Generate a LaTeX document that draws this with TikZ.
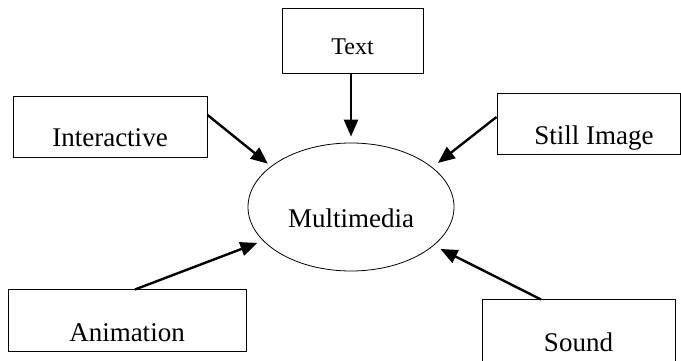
\documentclass[tikz,border=0pt]{standalone}
\usepackage{fontspec}
\setmainfont{Liberation Serif}
\usetikzlibrary{shapes.geometric,arrows.meta}
\begin{document}
\begin{tikzpicture}[x=1pt, y=1pt]
	% Define styles
	\tikzstyle{itembox} = [rectangle, draw, line width=1pt, inner sep=0pt, text depth=0pt, font=\fontsize{27}{30}\selectfont]
	\tikzstyle{centre} = [ellipse, draw, line width=0.8pt, minimum width=206pt, minimum height=128pt, inner sep=0pt, text height=42pt, text depth=0pt, font=\fontsize{27}{30}\selectfont]
	\tikzstyle{feed} = [-{Triangle[length=17pt, width=14pt]}, line width=2.4pt]

	\useasboundingbox (0,0) rectangle (681,361);

	% Nodes
	\node[centre] (media) at (351,154) {Multimedia};
	\node[itembox, minimum width=141pt, minimum height=65pt, text height=27pt, font=\fontsize{24}{28}\selectfont] (text) at (352.5,319.5) {Text};
	\node[itembox, minimum width=194pt, minimum height=61pt, text height=39pt] (inter) at (110,233.5) {Interactive};
	\node[itembox, minimum width=183pt, minimum height=61pt, text height=41pt] (still) at (588.5,236.5) {\hspace*{11pt}Still Image};
	\node[itembox, minimum width=238pt, minimum height=62pt, text height=42pt] (anim) at (127,40) {Animation};
	\node[itembox, minimum width=193pt, minimum height=62pt, text height=42pt] (sound) at (578.5,30) {Sound};

	% Arrows
	\draw[feed, shorten >=6pt] (text.south -| media.north) -- (media.north);
	\draw[feed, shorten >=4pt] ([yshift=12.5pt]inter.east) -- (media.153);
	\draw[feed, shorten >=7pt] ([yshift=7.5pt]still.west) -- (media.26);
	\draw[feed, shorten >=6pt] ([xshift=8pt]anim.north) -- (media.201);
	\draw[feed, shorten >=7.5pt] ([xshift=-37.5pt]sound.north) -- (media.335);
\end{tikzpicture}
\end{document}
